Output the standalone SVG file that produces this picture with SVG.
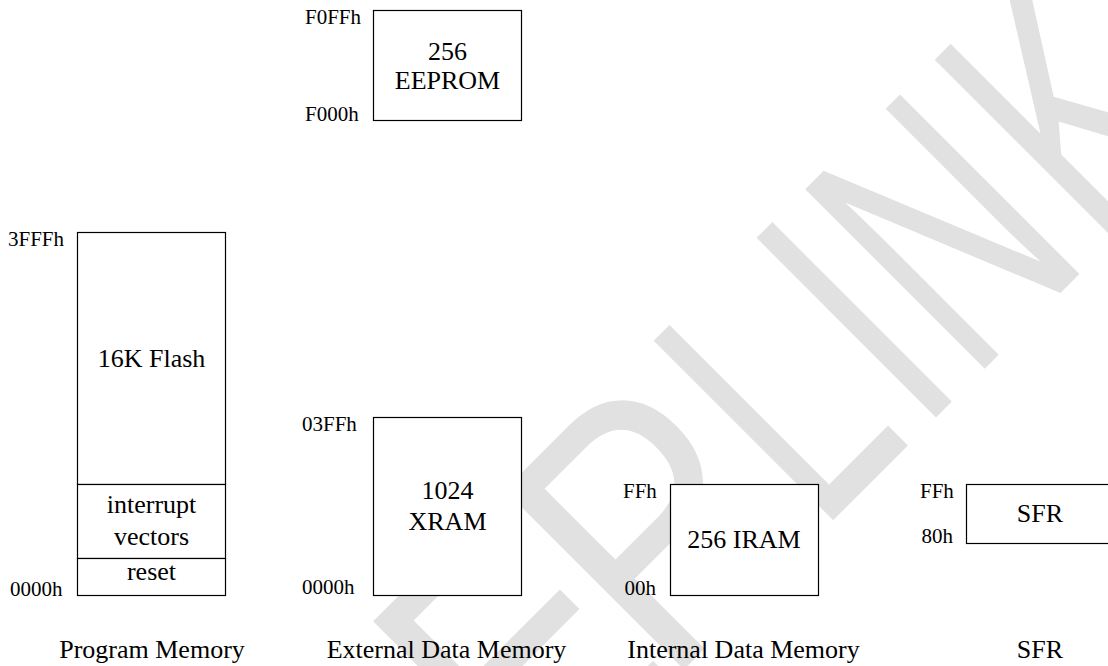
<svg xmlns="http://www.w3.org/2000/svg" width="1108" height="666" viewBox="0 0 1108 666">
<style>
.box{fill:#fff;stroke:#000;stroke-width:1.2}
.t{font-family:'Liberation Serif','Times New Roman',Tinos,'DejaVu Serif',serif;font-size:26px;fill:#000;text-anchor:middle}
.lb{font-family:'Liberation Serif','Times New Roman',Tinos,'DejaVu Serif',serif;font-size:21px;fill:#000}
.wm{font-family:'Liberation Sans',Arial,sans-serif;font-size:369px;fill:#e1e1e1}
</style>
<rect x="0" y="0" width="1108" height="666" fill="#fff"/>
<g id="watermark" transform="rotate(-45)">
<text class="wm" transform="translate(-201.2,957) scale(0.85,1)">E</text>
<text class="wm" transform="translate(-15.5,957) scale(0.85,1)">P</text>
<text class="wm" transform="translate(201.6,957) scale(0.65,1)">L</text>
<text class="wm" transform="translate(344.6,957) scale(0.65,1)">I</text>
<text class="wm" transform="translate(415.9,957) scale(0.65,1)">N</text>
<text class="wm" transform="translate(599.1,957) scale(0.65,1)">K</text>
</g>
<g id="connectors"></g>
<g id="program-memory">
<rect class="box" x="77.5" y="232.5" width="148" height="252"/>
<rect class="box" x="77.5" y="484.5" width="148" height="74"/>
<rect class="box" x="77.5" y="558.5" width="148" height="37"/>
<text class="t" font-family="Liberation Serif" x="151.5" y="367">16K Flash</text>
<text class="t" font-family="Liberation Serif" x="151.5" y="513">interrupt</text>
<text class="t" font-family="Liberation Serif" x="151.5" y="545">vectors</text>
<text class="t" font-family="Liberation Serif" x="151.5" y="580">reset</text>
<text class="lb" font-family="Liberation Serif" x="8" y="246">3FFFh</text>
<text class="lb" font-family="Liberation Serif" x="10" y="596">0000h</text>
<text class="t" font-family="Liberation Serif" x="152" y="658">Program Memory</text>
</g>
<g id="eeprom">
<rect class="box" x="373.5" y="10.5" width="148" height="110"/>
<text class="t" font-family="Liberation Serif" x="447.5" y="60">256</text>
<text class="t" font-family="Liberation Serif" x="447.5" y="89">EEPROM</text>
<text class="lb" font-family="Liberation Serif" x="305" y="24">F0FFh</text>
<text class="lb" font-family="Liberation Serif" x="305" y="120.5">F000h</text>
</g>
<g id="xram">
<rect class="box" x="373.5" y="417.5" width="148" height="178"/>
<text class="t" font-family="Liberation Serif" x="447.5" y="499">1024</text>
<text class="t" font-family="Liberation Serif" x="447.5" y="530">XRAM</text>
<text class="lb" font-family="Liberation Serif" x="302" y="431">03FFh</text>
<text class="lb" font-family="Liberation Serif" x="302" y="594">0000h</text>
<text class="t" font-family="Liberation Serif" x="446.5" y="658">External Data Memory</text>
</g>
<g id="iram">
<rect class="box" x="670.5" y="484.5" width="148" height="111"/>
<text class="t" font-family="Liberation Serif" x="744" y="548">256 IRAM</text>
<text class="lb" font-family="Liberation Serif" x="623" y="498">FFh</text>
<text class="lb" font-family="Liberation Serif" x="624.5" y="595">00h</text>
<text class="t" font-family="Liberation Serif" x="743.5" y="658">Internal Data Memory</text>
</g>
<g id="sfr">
<rect class="box" x="966.5" y="484.5" width="148" height="59"/>
<text class="t" font-family="Liberation Serif" x="1040" y="522">SFR</text>
<text class="lb" font-family="Liberation Serif" x="920" y="498">FFh</text>
<text class="lb" font-family="Liberation Serif" x="921.5" y="542.5">80h</text>
<text class="t" font-family="Liberation Serif" x="1040" y="658">SFR</text>
</g>
</svg>
